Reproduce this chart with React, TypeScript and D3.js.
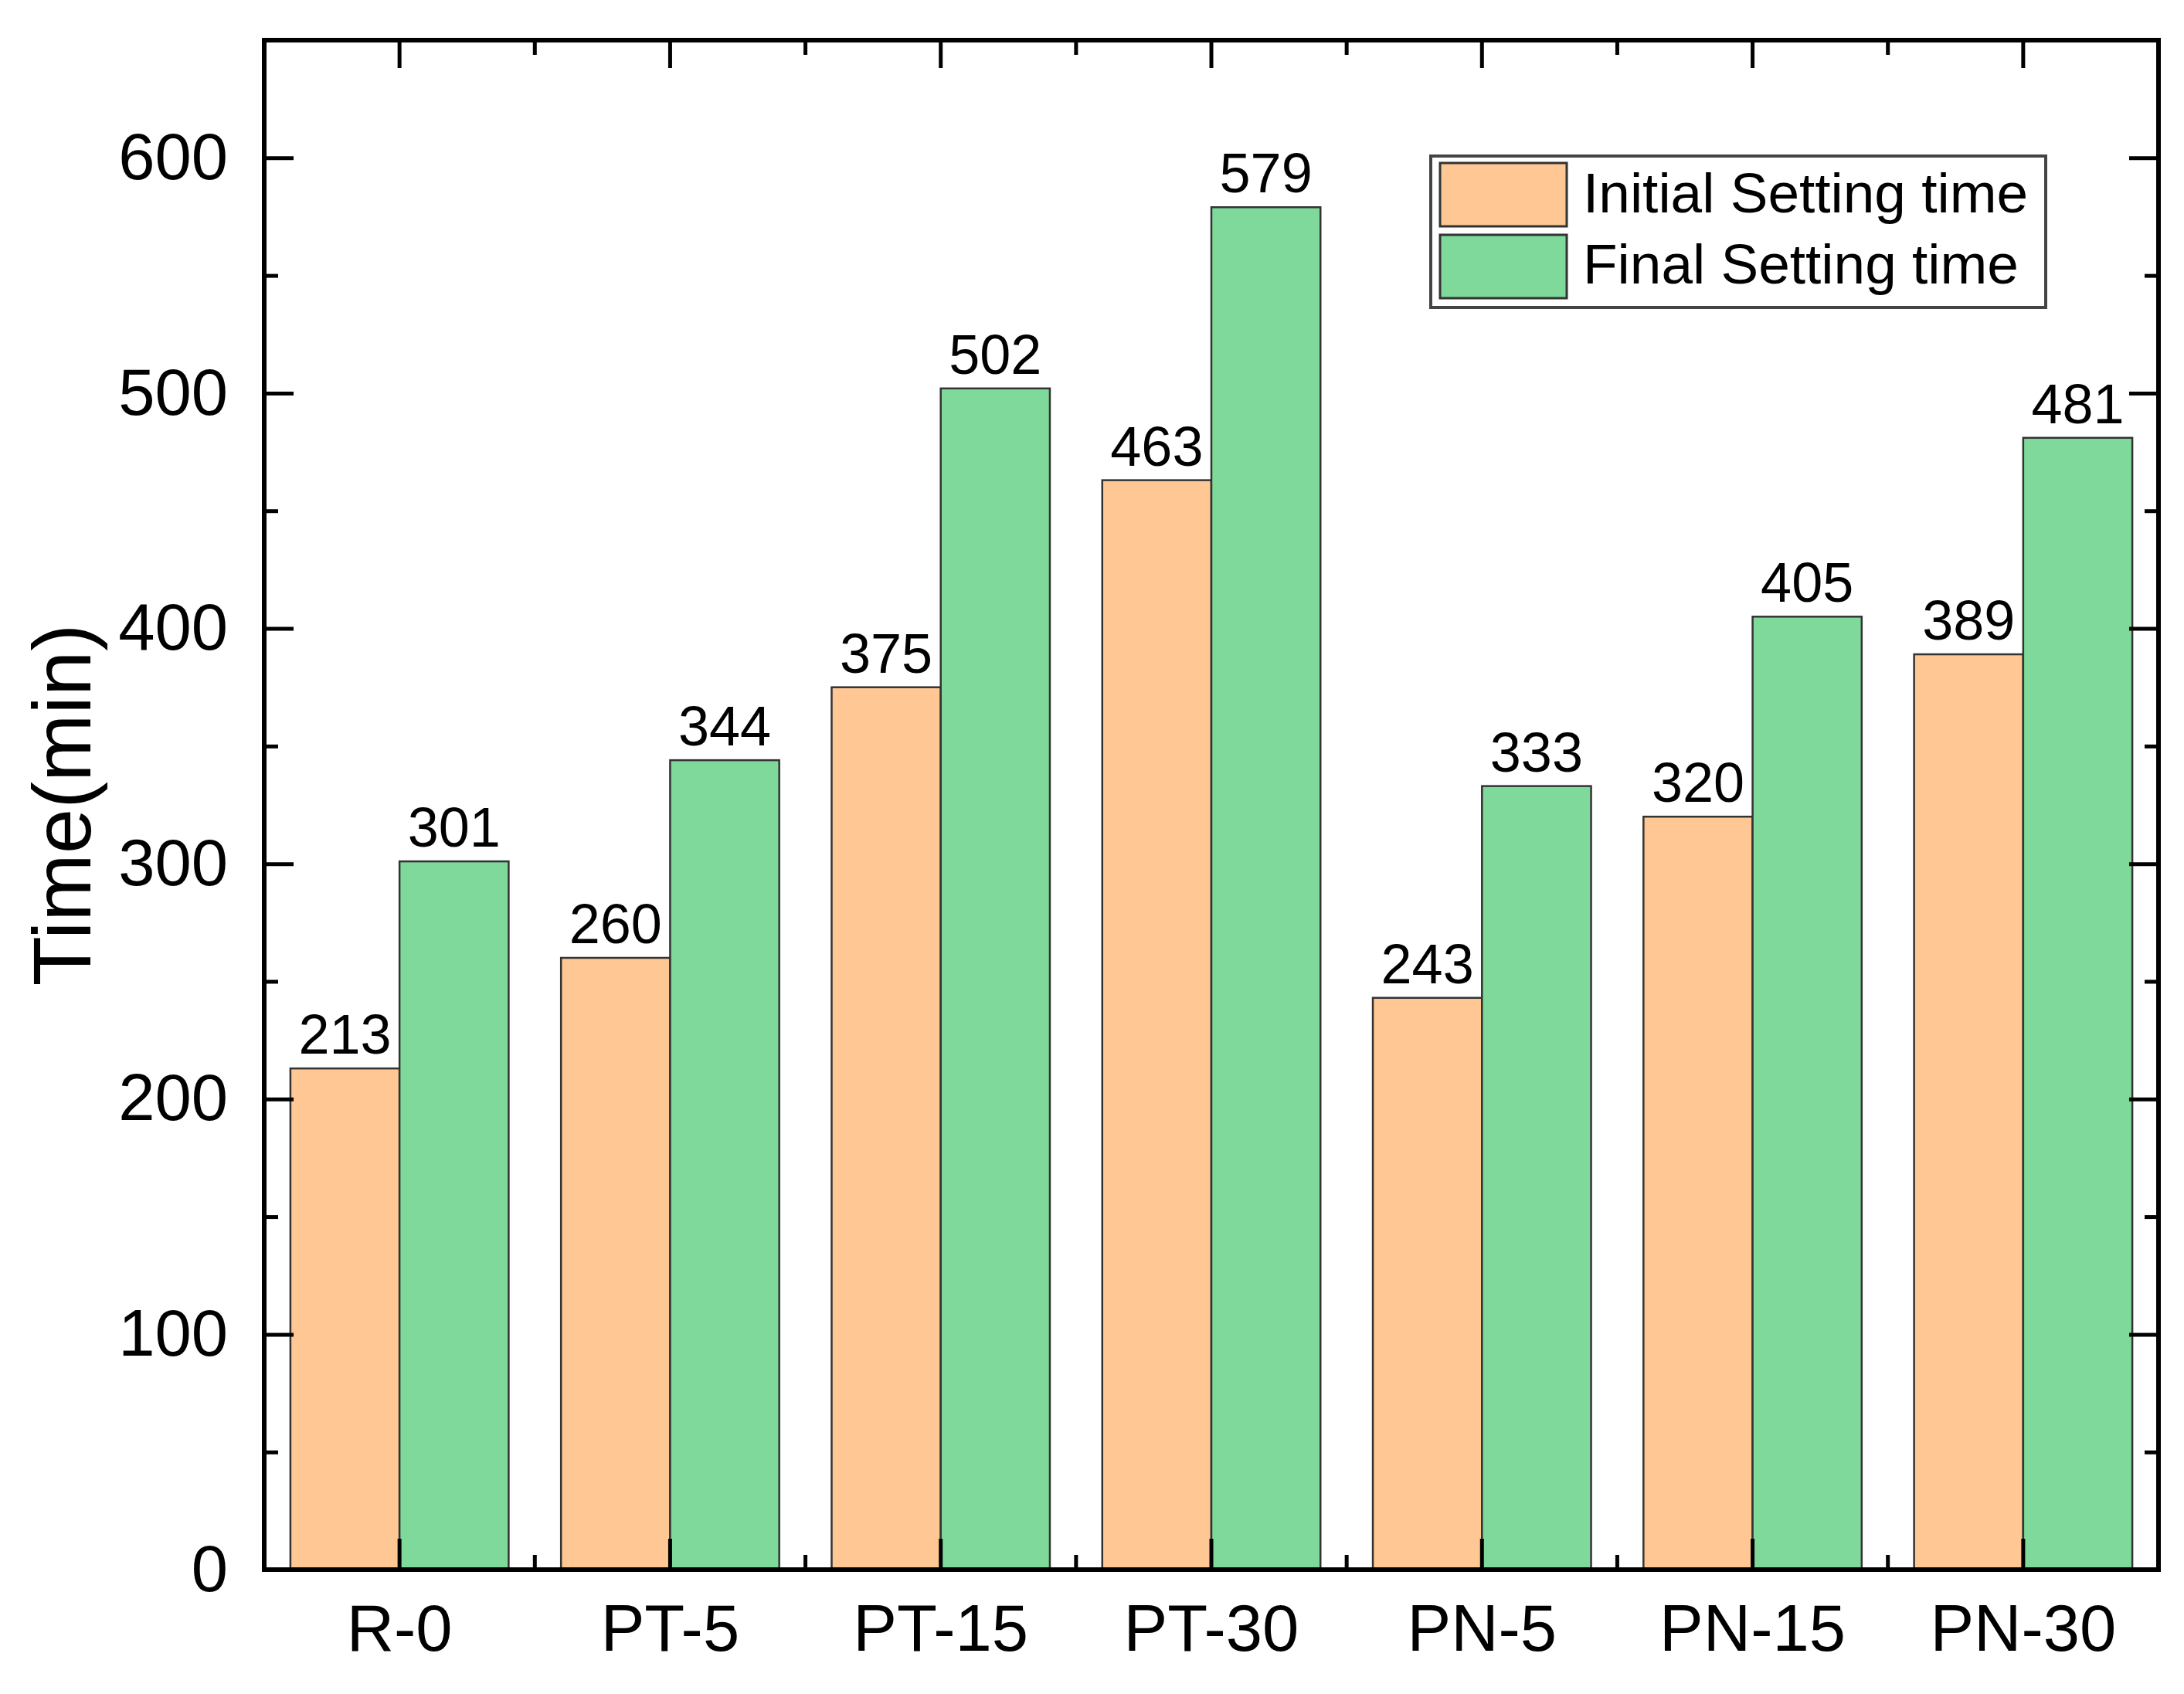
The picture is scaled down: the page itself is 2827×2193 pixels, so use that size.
import React, { useRef, useEffect } from 'react';
import * as d3 from 'd3';

const categories = ['R-0', 'PT-5', 'PT-15', 'PT-30', 'PN-5', 'PN-15', 'PN-30'];
const initialTimes = [213, 260, 375, 463, 243, 320, 389];
const finalTimes = [301, 344, 502, 579, 333, 405, 481];
const seriesNames = ['Initial Setting time', 'Final Setting time'];
const seriesColors = ['#FEC793', '#7ED99A'];
const yMajorTicks = [0, 100, 200, 300, 400, 500, 600];
const yMinorTicks = [50, 150, 250, 350, 450, 550];

const W = 2827;
const H = 2193;
const FONT = '"Liberation Sans", Arial, sans-serif';

const App: React.FC = () => {
  const svgRef = useRef<SVGSVGElement | null>(null);

  useEffect(() => {
    if (!svgRef.current) return;
    const svg = d3.select(svgRef.current);
    svg.selectAll('*').remove();

    const left = 342, right = 2794, top = 52, bottom = 2032;

    const x = d3.scaleBand<string>().domain(categories).range([left, right]).padding(0);
    const sub = d3.scaleBand<number>().domain([0, 1]).range([0, x.bandwidth()]).paddingInner(0).paddingOuter(0.24);
    const y = d3.scaleLinear().domain([0, 650]).range([bottom, top]);

    const series = [initialTimes, finalTimes];

    // bars + value labels
    series.forEach((vals, si) => {
      svg.append('g')
        .selectAll('rect')
        .data(vals)
        .enter()
        .append('rect')
        .attr('x', (d, i) => (x(categories[i]) as number) + (sub(si) as number))
        .attr('y', d => y(d))
        .attr('width', sub.bandwidth())
        .attr('height', d => bottom - y(d))
        .attr('fill', seriesColors[si])
        .attr('stroke', '#333')
        .attr('stroke-width', 2.5);

      svg.append('g')
        .selectAll('text')
        .data(vals)
        .enter()
        .append('text')
        .attr('x', (d, i) => (x(categories[i]) as number) + (sub(si) as number) + sub.bandwidth() / 2)
        .attr('y', d => y(d) - 19)
        .attr('text-anchor', 'middle')
        .style('font-family', FONT)
        .style('font-size', '72px')
        .attr('fill', '#000')
        .text(d => d);
    });

    const styleAxis = (g: d3.Selection<SVGGElement, unknown, null, undefined>) => {
      g.select('.domain').remove();
      g.selectAll('line').attr('stroke', '#000').attr('stroke-width', 5);
      g.selectAll('text').style('font-family', FONT).style('font-size', '85px').attr('fill', '#000');
    };

    // left axis
    svg.append('g')
      .attr('transform', `translate(${left},0)`)
      .call(d3.axisLeft(y).tickValues(yMajorTicks).tickSizeInner(-38).tickSizeOuter(0).tickPadding(47))
      .call(styleAxis);
    svg.append('g')
      .attr('transform', `translate(${left},0)`)
      .call(d3.axisLeft(y).tickValues(yMinorTicks).tickSizeInner(-18).tickSizeOuter(0).tickFormat(() => ''))
      .call(styleAxis);

    // right axis
    svg.append('g')
      .attr('transform', `translate(${right},0)`)
      .call(d3.axisRight(y).tickValues(yMajorTicks).tickSizeInner(-38).tickSizeOuter(0).tickFormat(() => ''))
      .call(styleAxis);
    svg.append('g')
      .attr('transform', `translate(${right},0)`)
      .call(d3.axisRight(y).tickValues(yMinorTicks).tickSizeInner(-18).tickSizeOuter(0).tickFormat(() => ''))
      .call(styleAxis);

    // bottom axis
    svg.append('g')
      .attr('transform', `translate(0,${bottom})`)
      .call(d3.axisBottom(x).tickSizeInner(-40).tickSizeOuter(0).tickPadding(45))
      .call(styleAxis);

    // top axis
    svg.append('g')
      .attr('transform', `translate(0,${top})`)
      .call(d3.axisTop(x).tickSizeInner(-36).tickSizeOuter(0).tickFormat(() => ''))
      .call(styleAxis);

    // minor ticks between categories
    const bounds = categories.slice(1).map(c => x(c) as number);
    svg.append('g')
      .selectAll('line')
      .data(bounds)
      .enter()
      .append('line')
      .attr('x1', d => d).attr('x2', d => d)
      .attr('y1', bottom).attr('y2', bottom - 19)
      .attr('stroke', '#000').attr('stroke-width', 5);
    svg.append('g')
      .selectAll('line')
      .data(bounds)
      .enter()
      .append('line')
      .attr('x1', d => d).attr('x2', d => d)
      .attr('y1', top).attr('y2', top + 19)
      .attr('stroke', '#000').attr('stroke-width', 5);

    // frame
    svg.append('rect')
      .attr('x', left).attr('y', top)
      .attr('width', right - left).attr('height', bottom - top)
      .attr('fill', 'none').attr('stroke', '#000').attr('stroke-width', 6);

    // y title
    svg.append('text')
      .attr('transform', `translate(117,${(top + bottom) / 2}) rotate(-90)`)
      .attr('text-anchor', 'middle')
      .style('font-family', FONT)
      .style('font-size', '105px')
      .attr('fill', '#000')
      .text('Time(min)');

    // legend
    const lg = svg.append('g');
    lg.append('rect')
      .attr('x', 1852).attr('y', 202).attr('width', 796).attr('height', 196)
      .attr('fill', '#fff').attr('stroke', '#444').attr('stroke-width', 4);
    seriesNames.forEach((name, i) => {
      lg.append('rect')
        .attr('x', 1864).attr('y', 211 + i * 93).attr('width', 164).attr('height', 82)
        .attr('fill', seriesColors[i]).attr('stroke', '#333').attr('stroke-width', 3);
      lg.append('text')
        .attr('x', 2049).attr('y', 275 + i * 92)
        .style('font-family', FONT)
        .style('font-size', '73px')
        .attr('fill', '#000')
        .text(name);
    });
  }, []);

  return (
    <svg
      ref={svgRef}
      width={W}
      height={H}
      style={{ position: 'absolute', left: 0, top: 0, background: '#fff' }}
    />
  );
};

export default App;
